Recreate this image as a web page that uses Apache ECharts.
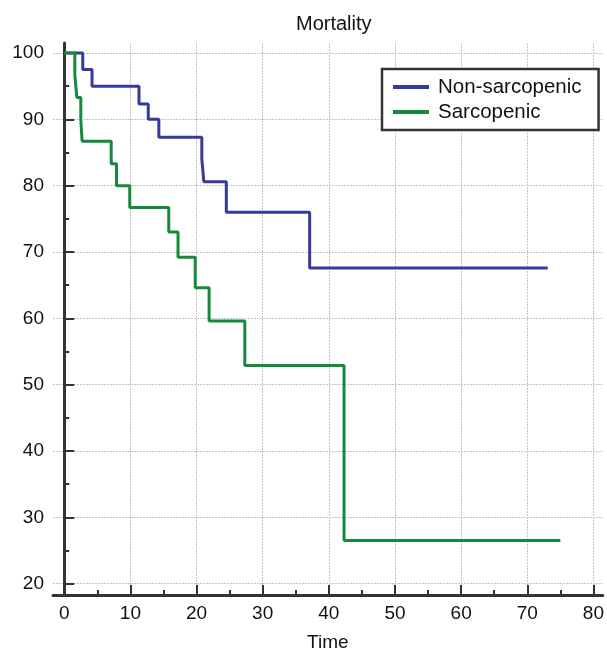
<!DOCTYPE html>
<html>
<head>
<meta charset="utf-8" />
<title>Mortality</title>
<script src="https://cdn.jsdelivr.net/npm/echarts@6/dist/echarts.min.js"></script>
<style>
  html, body { margin: 0; padding: 0; background: #fff; }
  #main { width: 607px; height: 657px; }
</style>
</head>
<body>
<div id="main"></div>
<script type="text/javascript">
// survival curves: [time, percent]
var nonSarcTimes  = [0, 2.8, 4.2, 11.3, 12.7, 14.3, 20.8, 21.1, 24.5, 37.1, 73.1];
var nonSarcValues = [100, 97.5, 95.0, 92.3, 90.0, 87.3, 84.0, 80.6, 76.0, 67.6, 67.6];
var sarcTimes  = [0, 1.6, 1.9, 2.5, 2.7, 7.1, 7.9, 9.9, 15.8, 17.2, 19.8, 21.9, 27.3, 42.3, 75.0];
var sarcValues = [100, 96.7, 93.3, 90.0, 86.7, 83.3, 80.0, 76.7, 73.0, 69.2, 64.6, 59.6, 52.9, 26.5, 26.5];

var xTicks = [0, 10, 20, 30, 40, 50, 60, 70, 80];
var xMinor = [5, 15, 25, 35, 45, 55, 65, 75];
var yTicks = [20, 30, 40, 50, 60, 70, 80, 90, 100];
var yMinor = [25, 35, 45, 55, 65, 75, 85, 95];

function pairs(t, v) {
    var out = [];
    for (var i = 0; i < t.length; i++) out.push([t[i], v[i]]);
    return out;
}

var font = "'Liberation Sans', Arial, Helvetica, sans-serif";
var axisCol = '#333';

var myChart = echarts.init(document.getElementById('main'));
var option = {
    backgroundColor: '#fff',
    animation: false,
    title: {
        text: 'Mortality',
        left: 291,
        top: 9,
        textStyle: { fontFamily: font, fontSize: 20, fontWeight: 'normal', color: '#111' }
    },
    legend: {
        orient: 'vertical',
        left: 382,
        top: 69,
        padding: [7, 17, 7, 11],
        itemGap: 3,
        itemWidth: 36,
        itemHeight: 4,
        icon: 'rect',
        borderColor: '#333',
        borderWidth: 2.5,
        backgroundColor: '#fff',
        textStyle: { fontFamily: font, fontSize: 20.5, color: '#111', lineHeight: 22, padding: [0, 0, 0, 4] },
        data: ['Non-sarcopenic', 'Sarcopenic']
    },
    grid: { left: 53, top: 43, width: 550, height: 558 },
    xAxis: [{
        type: 'value',
        min: -1.7,
        max: 81.4,
        name: 'Time',
        nameLocation: 'middle',
        nameGap: 38,
        nameTextStyle: { fontFamily: font, fontSize: 19, color: '#111' },
        axisLine: { show: true, lineStyle: { color: axisCol, width: 3 } },
        axisTick: { show: true, inside: true, length: 10, customValues: xTicks, lineStyle: { color: axisCol, width: 2 } },
        axisLabel: { customValues: xTicks, margin: 9, fontFamily: font, fontSize: 19, color: '#111' },
        splitLine: { show: true, lineStyle: { color: '#c4c4c4', width: 1, type: [2, 1] } }
    }, {
        type: 'value',
        position: 'bottom',
        min: -1.7,
        max: 81.4,
        axisLine: { show: false },
        axisTick: { show: true, inside: true, length: 5, customValues: xMinor, lineStyle: { color: axisCol, width: 2 } },
        axisLabel: { show: false },
        splitLine: { show: false }
    }],
    yAxis: [{
        type: 'value',
        min: 18.3,
        max: 101.5,
        axisLine: { show: true, lineStyle: { color: axisCol, width: 3 } },
        axisTick: { show: true, inside: true, length: 10, customValues: yTicks, lineStyle: { color: axisCol, width: 2 } },
        axisLabel: { customValues: yTicks, margin: 9, fontFamily: font, fontSize: 19, color: '#111' },
        splitLine: { show: true, lineStyle: { color: '#c4c4c4', width: 1, type: [2, 1] } }
    }, {
        type: 'value',
        position: 'left',
        min: 18.3,
        max: 101.5,
        axisLine: { show: false },
        axisTick: { show: true, inside: true, length: 5, customValues: yMinor, lineStyle: { color: axisCol, width: 2 } },
        axisLabel: { show: false },
        splitLine: { show: false }
    }],
    series: [{
        name: 'Non-sarcopenic',
        type: 'line',
        step: 'end',
        showSymbol: false,
        color: '#363a9c',
        lineStyle: { width: 3 },
        data: pairs(nonSarcTimes, nonSarcValues)
    }, {
        name: 'Sarcopenic',
        type: 'line',
        step: 'end',
        showSymbol: false,
        color: '#168a3c',
        lineStyle: { width: 3 },
        data: pairs(sarcTimes, sarcValues)
    }]
};
myChart.setOption(option);
</script>
</body>
</html>
